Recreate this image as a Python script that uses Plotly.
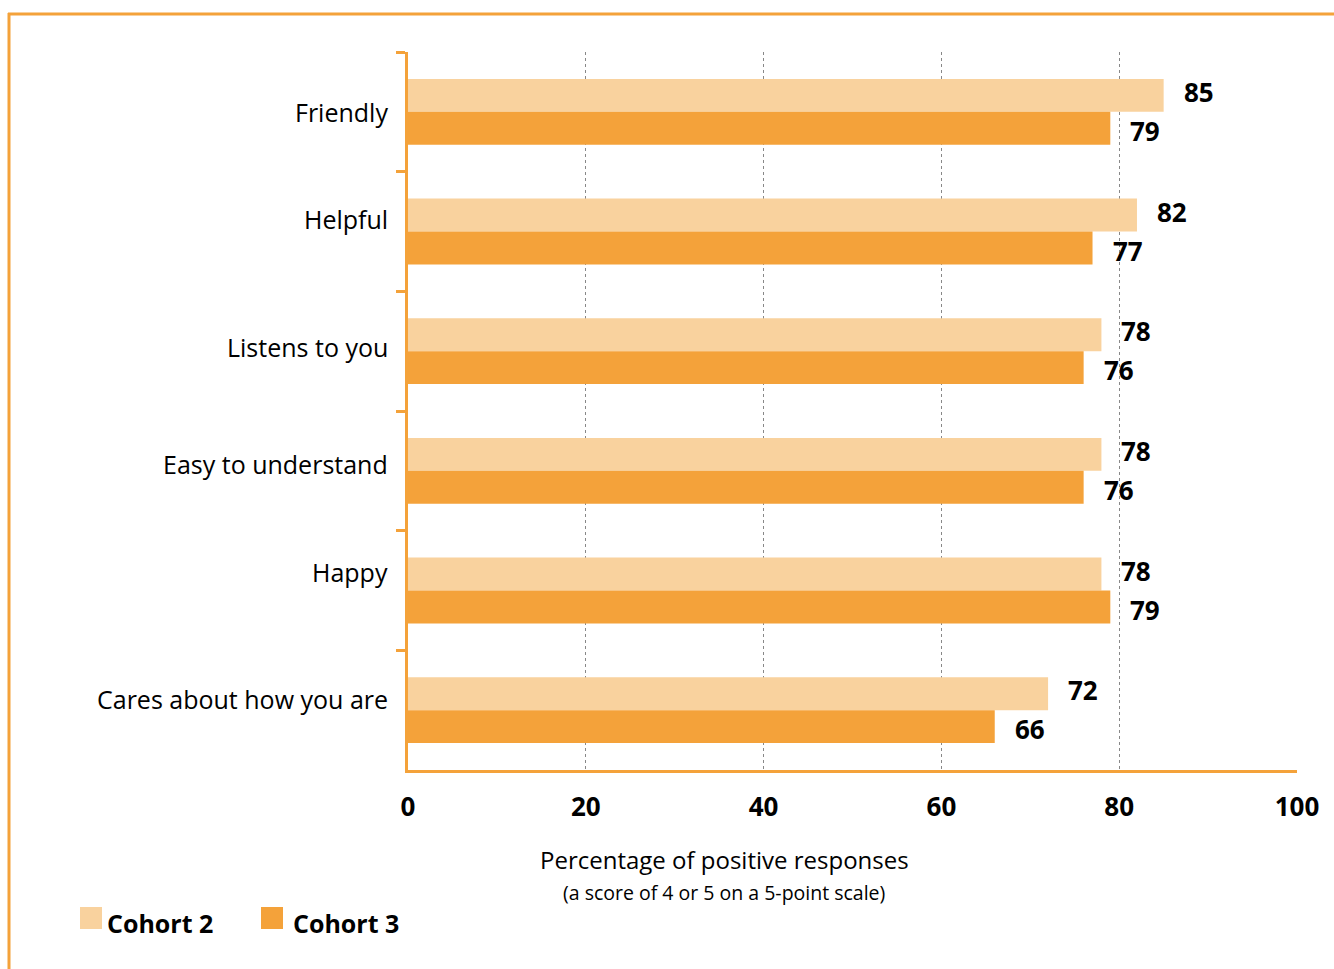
import plotly.graph_objects as go

# Survey items, top to bottom
categories = ["Friendly", "Helpful", "Listens to you", "Easy to understand",
              "Happy", "Cares about how you are"]
cohort2 = [85, 82, 78, 78, 78, 72]
cohort3 = [79, 77, 76, 76, 79, 66]
series_names = ["Cohort 2", "Cohort 3"]
x_ticks = [0, 20, 40, 60, 80, 100]
x_title = "Percentage of positive responses"
x_subtitle = "(a score of 4 or 5 on a 5-point scale)"

# vertical nudges (px, up) for the item labels
label_nudge = [0, 13, 4, 7, 19, 11]

LIGHT = "#F9D29E"
DARK = "#F4A23A"
FONT = "Open Sans"

W, H = 1334, 969
L, R, T, B = 408, 37, 52, 199
PW, PH = W - L - R, H - T - B


def px(x):
    return (x - L) / PW


def py(y):
    return (H - B - y) / PH


fig = go.Figure()
for name, vals, col in [(series_names[0], cohort2, LIGHT),
                        (series_names[1], cohort3, DARK)]:
    fig.add_trace(go.Bar(y=categories, x=vals, name=name, orientation="h",
                         marker=dict(color=col, line=dict(width=0)),
                         showlegend=False))

annotations = []
# item labels to the left of the axis
for cat, nud in zip(categories, label_nudge):
    annotations.append(dict(x=0, y=cat, xref="paper", yref="y", text=cat,
                            showarrow=False, xanchor="right", yanchor="middle",
                            xshift=-18, yshift=nud,
                            font=dict(family=FONT, size=25, color="#000")))

# value labels next to each bar end
for vals, ysh in [(cohort2, 20), (cohort3, -19)]:
    for cat, v in zip(categories, vals):
        annotations.append(dict(x=v, y=cat, xref="x", yref="y", text=str(v),
                                showarrow=False, xanchor="left", yanchor="middle",
                                xshift=18, yshift=ysh,
                                font=dict(family=FONT, size=26, color="#000",
                                          weight="bold")))

# axis title and subtitle
annotations.append(dict(x=px(724), y=py(860), xref="paper", yref="paper",
                        text=x_title, showarrow=False, xanchor="center",
                        yanchor="middle",
                        font=dict(family=FONT, size=24, color="#000")))
annotations.append(dict(x=px(724), y=py(892), xref="paper", yref="paper",
                        text=x_subtitle, showarrow=False, xanchor="center",
                        yanchor="middle",
                        font=dict(family=FONT, size=19.5, color="#000")))

shapes = []
# legend swatches and labels
for name, col, sx, tx in [(series_names[0], LIGHT, 80, 105),
                          (series_names[1], DARK, 261, 291)]:
    shapes.append(dict(type="rect", xref="paper", yref="paper",
                       x0=px(sx), x1=px(sx + 22), y0=py(929), y1=py(907),
                       fillcolor=col, line=dict(width=0)))
    annotations.append(dict(x=px(tx), y=py(923), xref="paper", yref="paper",
                            text=name, showarrow=False, xanchor="left",
                            yanchor="middle",
                            font=dict(family=FONT, size=25, color="#000",
                                      weight="bold")))

# outer frame (top and left)
shapes.append(dict(type="line", xref="paper", yref="paper",
                   x0=px(8), x1=px(W + 5), y0=py(14), y1=py(14),
                   line=dict(color=DARK, width=3)))
shapes.append(dict(type="line", xref="paper", yref="paper",
                   x0=px(9), x1=px(9), y0=py(13), y1=py(H + 5),
                   line=dict(color=DARK, width=3)))

fig.update_layout(
    width=W, height=H,
    margin=dict(l=L, r=R, t=T, b=B),
    paper_bgcolor="white", plot_bgcolor="white",
    barmode="group", bargap=0.45, bargroupgap=0,
    font=dict(family=FONT, color="#000"),
    annotations=annotations, shapes=shapes,
    showlegend=False,
)
fig.update_xaxes(range=[0, 100], tickvals=x_ticks, showgrid=True,
                 gridcolor="#888", griddash="dot", gridwidth=1,
                 zeroline=False, showline=True, linecolor=DARK, linewidth=3,
                 ticks="", ticklabelstandoff=12,
                 tickfont=dict(family=FONT, size=26, color="#000", weight="bold"),
                 fixedrange=True)
fig.update_yaxes(categoryorder="array", categoryarray=categories,
                 autorange="reversed", showline=True, linecolor=DARK,
                 linewidth=3, ticks="outside", tickson="boundaries",
                 ticklen=9, tickwidth=3, tickcolor=DARK, showgrid=False,
                 showticklabels=False, fixedrange=True)

fig.write_html("out.html")
